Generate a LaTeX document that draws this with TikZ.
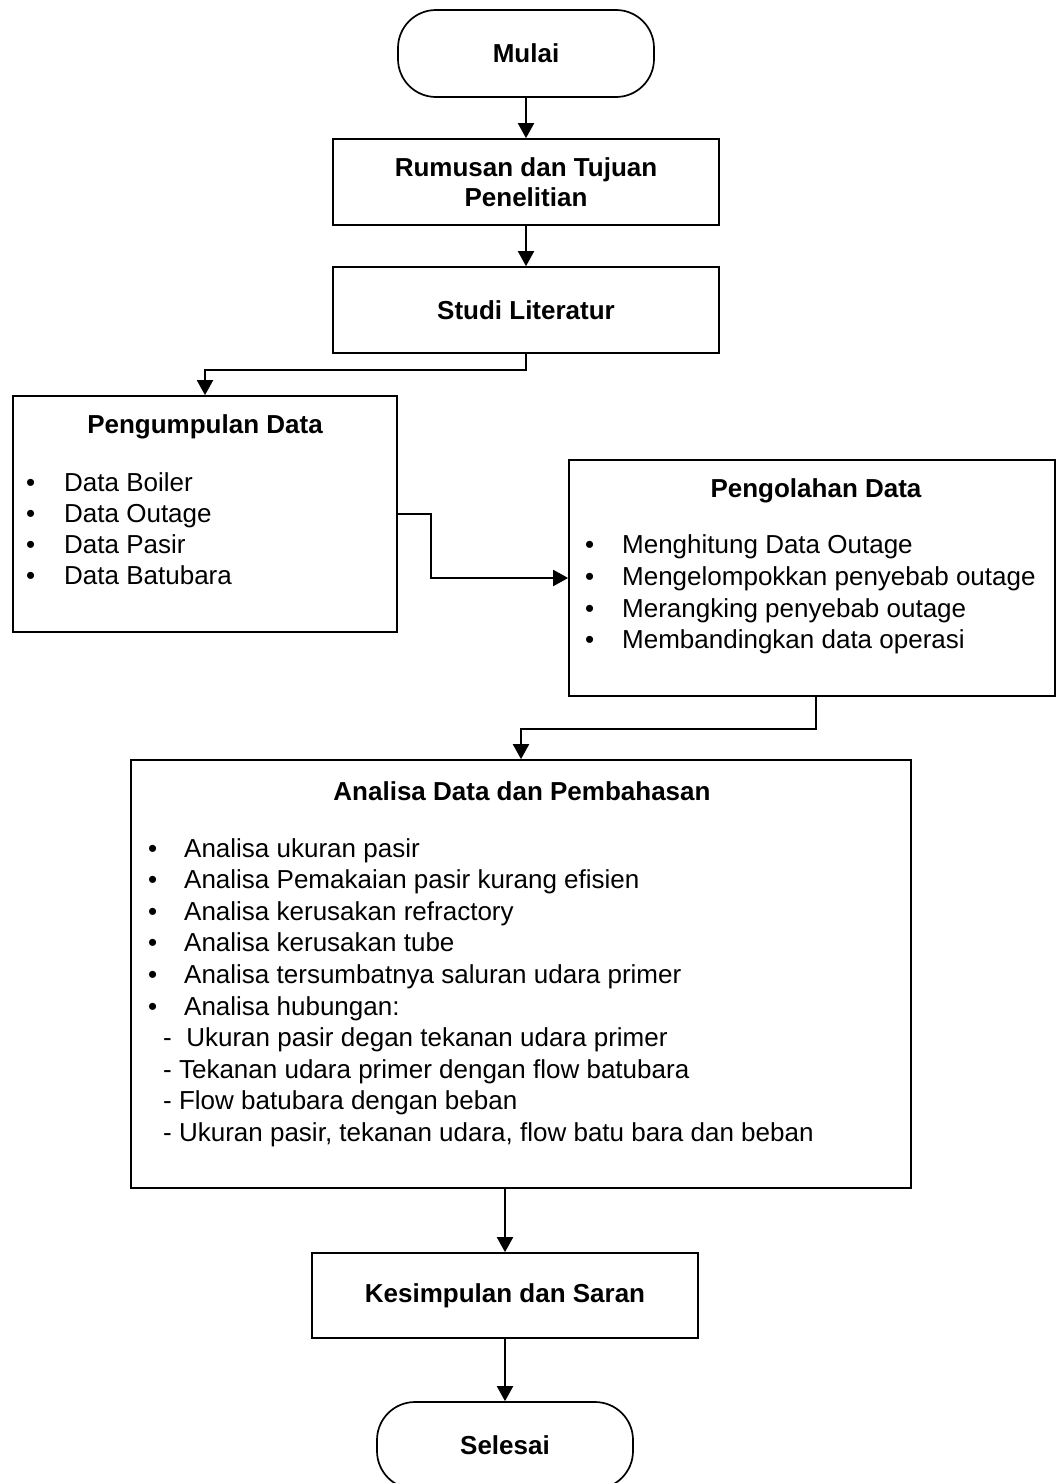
\documentclass[tikz,border=0pt]{standalone}
\usepackage{fontspec}
\setmainfont{Liberation Sans}
\usetikzlibrary{arrows.meta}
\newcommand{\bulitem}[2][38pt]{\makebox[#1][l]{\textbullet}#2}
\begin{document}
\fontsize{26}{31.6}\selectfont
\begin{tikzpicture}[x=1pt,y=-1pt,
        arrow/.style = {line width=2pt,-{Triangle[length=15pt,width=16pt]}},
        proses/.style = {draw,line width=1.7pt,rectangle,align=center,font=\bfseries},
        terminal/.style = {proses,rounded corners=38pt,minimum width=256pt,minimum height=87pt},
        teks/.style = {anchor=base west,inner sep=0pt},
        judul/.style = {anchor=base,inner sep=0pt,font=\bfseries}]
    \useasboundingbox (0,0) rectangle (1056,1483);

    % blok diagram
    \node[terminal] (mulai) at (526,53.5) {Mulai};
    \node[proses,minimum width=386pt,minimum height=86pt] (rumusan) at (526,182)
        {Rumusan dan Tujuan\\[-1.6pt]Penelitian};
    \node[proses,minimum width=386pt,minimum height=86pt] (studi) at (526,310) {Studi Literatur};
    \node[proses,minimum width=384pt,minimum height=236pt] (kumpul) at (205,514) {};
    \node[proses,minimum width=486pt,minimum height=236pt] (olah) at (812,578) {};
    \node[proses,minimum width=780pt,minimum height=428pt] (analisa) at (521,974) {};
    \node[proses,minimum width=386pt,minimum height=85pt] (simpul) at (505,1295.5) {Kesimpulan dan Saran};
    \node[terminal] (selesai) at (505,1445.5) {Selesai};

    % isi pengumpulan data
    \node[judul] (kumpul-judul) at (205,433) {Pengumpulan Data};
    \node[teks] (kumpul-1) at (26,491) {\bulitem{Data Boiler}};
    \node[teks] (kumpul-2) at (26,522) {\bulitem{Data Outage}};
    \node[teks] (kumpul-3) at (26,553) {\bulitem{Data Pasir}};
    \node[teks] (kumpul-4) at (26,584) {\bulitem{Data Batubara}};

    % isi pengolahan data
    \node[judul] (olah-judul) at (816,497) {Pengolahan Data};
    \node[teks] (olah-1) at (585,553) {\bulitem[37pt]{Menghitung Data Outage}};
    \node[teks] (olah-2) at (585,585) {\bulitem[37pt]{Mengelompokkan penyebab outage}};
    \node[teks] (olah-3) at (585,617) {\bulitem[37pt]{Merangking penyebab outage}};
    \node[teks] (olah-4) at (585,648) {\bulitem[37pt]{Membandingkan data operasi}};

    % isi analisa data
    \node[judul] (analisa-judul) at (522,800) {Analisa Data dan Pembahasan};
    \node[teks] (analisa-1) at (148,857) {\bulitem[36pt]{Analisa ukuran pasir}};
    \node[teks] (analisa-2) at (148,888.6) {\bulitem[36pt]{Analisa Pemakaian pasir kurang efisien}};
    \node[teks] (analisa-3) at (148,920.2) {\bulitem[36pt]{Analisa kerusakan refractory}};
    \node[teks] (analisa-4) at (148,951.8) {\bulitem[36pt]{Analisa kerusakan tube}};
    \node[teks] (analisa-5) at (148,983.4) {\bulitem[36pt]{Analisa tersumbatnya saluran udara primer}};
    \node[teks] (analisa-6) at (148,1015) {\bulitem[36pt]{Analisa hubungan:}};
    \node[teks] (analisa-7) at (163,1046.6) {-~~Ukuran pasir degan tekanan udara primer};
    \node[teks] (analisa-8) at (163,1078.2) {- Tekanan udara primer dengan flow batubara};
    \node[teks] (analisa-9) at (163,1109.8) {- Flow batubara dengan beban};
    \node[teks] (analisa-10) at (163,1141.4) {- Ukuran pasir, tekanan udara, flow batu bara dan beban};

    % panah
    \draw[arrow] (mulai) -- (rumusan);
    \draw[arrow] (rumusan) -- (studi);
    \draw[arrow] (studi.south) -- ++(0,16) -| (kumpul.north);
    \draw[arrow] (kumpul.east) -- ++(33,0) |- (olah.west);
    \draw[arrow] ([xshift=4pt]olah.south) -- ++(0,32) -| (analisa.north);
    \draw[arrow] (analisa.south -| simpul.north) -- (simpul.north);
    \draw[arrow] (simpul) -- (selesai);
\end{tikzpicture}
\end{document}
